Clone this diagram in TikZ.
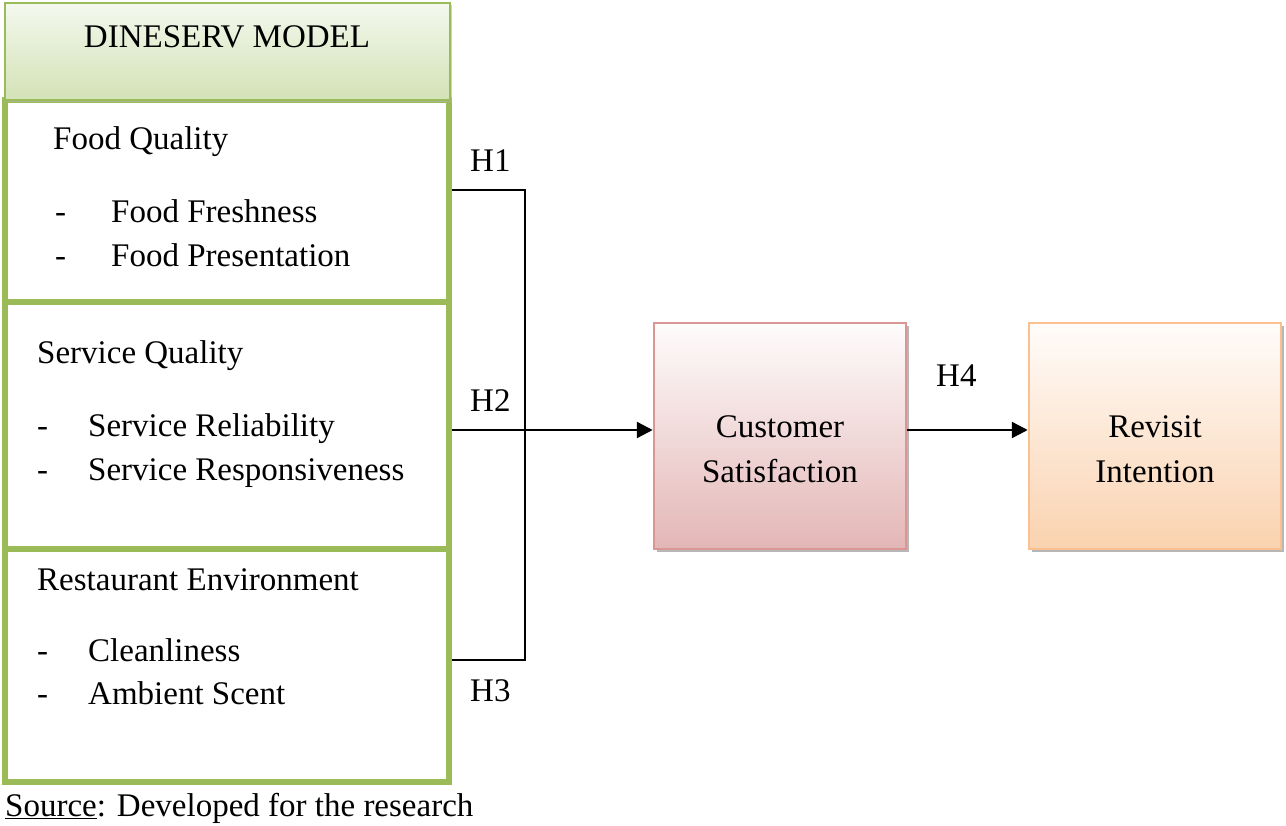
\documentclass[tikz,border=0pt]{standalone}
\usepackage{fontspec}
\setmainfont{Liberation Serif}
\usetikzlibrary{arrows.meta,shadows}
\definecolor{grn}{HTML}{9BBB59}
\definecolor{hdrtop}{HTML}{F4F8EE}
\definecolor{hdrbot}{HTML}{D3E2B6}
\definecolor{pinktop}{HTML}{FEFCFC}
\definecolor{pinkbot}{HTML}{E4B6B6}
\definecolor{pinkbd}{HTML}{D99694}
\definecolor{ortop}{HTML}{FFFCFA}
\definecolor{orbot}{HTML}{FAD2AF}
\definecolor{orbd}{HTML}{FAC090}
\tikzset{
  txt/.style={font=\fontsize{33}{44}\selectfont, inner sep=0pt, anchor=base west},
  ctxt/.style={font=\fontsize{33}{44}\selectfont, inner sep=0pt, anchor=base},
  dimbox/.style={draw=grn, line width=6.5pt, minimum width=444pt, inner sep=0pt, fill=white},
  sbox/.style={line width=2.5pt, minimum width=252pt, minimum height=226pt, inner sep=0pt,
    drop shadow={shadow xshift=3pt, shadow yshift=-3pt, fill=black!35, opacity=0.8}},
  conn/.style={line width=2.4pt, draw=black},
  arr/.style={conn, -{Triangle[length=16pt,width=16pt]}}
}
\begin{document}
\begin{tikzpicture}[x=1pt,y=1pt]
\useasboundingbox[fill=white] (0,0) rectangle (1286,-826);
% DINESERV dimension boxes
\node[dimbox, minimum height=233pt] (rest) at (227,-665.5) {};
\node[dimbox, minimum height=247pt] (serv) at (227,-425.5) {};
\node[dimbox, minimum height=202pt] (food) at (227,-201) {};
% header
\node[draw=grn, line width=2pt, minimum width=445pt, minimum height=97pt, inner sep=0pt,
      top color=hdrtop, bottom color=hdrbot,
      drop shadow={shadow xshift=2pt, shadow yshift=-2pt, fill=black!30, opacity=0.6}] (hdr) at (227.5,-51.5) {};
\node[ctxt] (hdrt) at (227,-48) {DINESERV MODEL};
% food quality
\node[txt] (fq) at (53,-150) {Food Quality};
\node[txt] (fqd1) at (55,-223) {-};
\node[txt] (fq1) at (111,-223) {Food Freshness};
\node[txt] (fqd2) at (55,-267) {-};
\node[txt] (fq2) at (111,-267) {Food Presentation};
% service quality
\node[txt] (sq) at (37,-364) {Service Quality};
\node[txt] (sqd1) at (37,-436) {-};
\node[txt] (sq1) at (88,-436) {Service Reliability};
\node[txt] (sqd2) at (37,-480) {-};
\node[txt] (sq2) at (88,-480) {Service Responsiveness};
% restaurant environment
\node[txt] (re) at (37,-590) {Restaurant Environment};
\node[txt] (red1) at (37,-661) {-};
\node[txt] (re1) at (88,-661) {Cleanliness};
\node[txt] (red2) at (37,-704) {-};
\node[txt] (re2) at (88,-704) {Ambient Scent};
% source
\node[txt] (src) at (5,-816) {\underline{Source}: Developed for the research};
% right boxes
\node[sbox, draw=pinkbd, top color=pinktop, bottom color=pinkbot] (cust) at (780,-436) {};
\node[ctxt] (cust1) at (780,-438) {Customer};
\node[ctxt] (cust2) at (780,-482) {Satisfaction};
\node[sbox, draw=orbd, top color=ortop, bottom color=orbot] (rev) at (1155,-436) {};
\node[ctxt] (rev1) at (1155,-438) {Revisit};
\node[ctxt] (rev2) at (1155,-482) {Intention};
% connectors
\coordinate (j1) at (525,-190);
\coordinate (j2) at (525,-430);
\coordinate (j3) at (525,-660);
\draw[conn] (food.east |- j1) -- (j1) -- (j3) -- (rest.east |- j3);
\draw[arr] (serv.east |- j2) -- (cust.west |- j2);
\draw[arr] (cust.east |- j2) -- (rev.west |- j2);
% labels
\node[txt] (h1) at (470,-172) {H1};
\node[txt] (h2) at (470,-411) {H2};
\node[txt] (h3) at (470,-701) {H3};
\node[txt] (h4) at (936,-387) {H4};
\end{tikzpicture}
\end{document}
